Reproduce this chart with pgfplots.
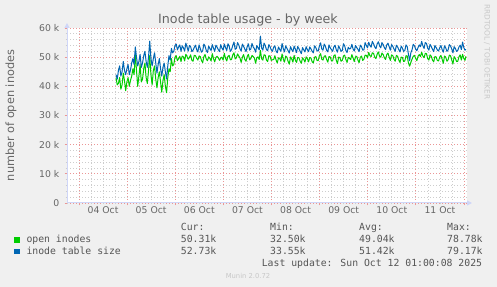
\documentclass[border=0pt]{standalone}
\usepackage{pgfplots}
\pgfplotsset{compat=1.18}
\usepackage{pgfplotstable}
\usepackage{fontspec}
\setmainfont{DejaVu Sans}
\newfontfamily\monofont{DejaVu Sans Mono}
\usetikzlibrary{arrows.meta}
\definecolor{bgc}{HTML}{F0F0F0}
\definecolor{axiscol}{HTML}{CFD6F8}
\definecolor{fontc}{HTML}{666666}
\definecolor{legc}{HTML}{555555}
\definecolor{mgrid}{RGB}{235,150,150}
\definecolor{ngrid}{RGB}{205,205,205}
\definecolor{cgreen}{HTML}{00CC00}
\definecolor{cblue}{HTML}{0066B3}
\definecolor{wm}{HTML}{C8C8C8}

\pgfplotstableread{
x blue green
0.77 44.0 43.0
0.795 42.5 40.5
0.82 45.5 41.0
0.845 47.0 43.0
0.87 43.5 39.0
0.895 45.0 40.5
0.92 48.5 44.5
0.945 45.5 42.0
0.97 44.0 38.5
0.995 46.0 41.5
1.02 47.5 43.0
1.045 44.0 40.0
1.07 45.5 42.0
1.095 48.0 43.5
1.12 49.5 46.0
1.145 47.5 44.0
1.17 53.5 51.0
1.195 50.0 45.5
1.22 47.0 40.0
1.245 48.5 43.5
1.27 51.0 47.5
1.295 46.5 41.5
1.32 48.0 42.5
1.345 50.5 46.0
1.37 52.0 48.0
1.395 48.5 43.0
1.42 46.5 41.0
1.445 50.0 45.5
1.47 55.5 50.5
1.495 49.5 44.0
1.52 47.0 40.5
1.545 49.5 45.5
1.57 51.5 47.0
1.595 48.0 42.5
1.62 44.5 39.5
1.645 47.5 43.0
1.67 49.5 45.0
1.695 46.0 41.5
1.72 43.5 38.0
1.745 46.5 42.0
1.77 48.0 44.0
1.795 45.0 40.0
1.82 42.5 37.8
1.845 47.0 43.0
1.87 50.5 46.0
1.895 49.0 45.0
1.92 53.0 49.5
1.945 51.5 47.0
1.97 52.0 47.5
1.995 54.0 50.0
2.02 54.5 50.5
2.045 52.5 48.8
2.07 53.5 49.5
2.095 54.2 50.3
2.12 52.0 48.5
2.145 53.9 50.4
2.17 53.2 50.1
2.195 52.1 48.7
2.22 54.8 51.0
2.245 53.5 50.2
2.27 52.1 49.3
2.295 54.0 49.9
2.32 53.6 50.8
2.345 51.9 48.9
2.37 52.4 48.6
2.395 53.3 50.6
2.42 54.1 50.5
2.445 52.6 49.6
2.47 51.8 49.0
2.495 54.2 50.4
2.52 53.0 50.2
2.545 51.7 48.9
2.57 52.2 48.1
2.595 54.5 50.2
2.62 53.7 50.9
2.645 52.3 49.3
2.67 51.6 48.8
2.695 53.8 50.1
2.72 52.9 49.6
2.745 52.3 48.7
2.77 54.3 51.2
2.795 53.1 49.5
2.82 52.0 48.4
2.845 54.1 49.9
2.87 53.4 50.3
2.895 52.6 49.8
2.92 51.9 48.9
2.945 54.3 49.7
2.97 53.1 50.0
2.995 52.4 49.0
3.02 54.5 51.3
3.045 53.3 49.6
3.07 52.3 48.7
3.095 54.6 50.3
3.12 53.8 50.6
3.145 52.0 49.1
3.17 52.6 49.2
3.195 54.0 50.8
3.22 55.2 51.5
3.245 52.7 49.4
3.27 53.0 49.8
3.295 55.0 51.1
3.32 54.2 50.4
3.345 52.9 49.7
3.37 52.1 48.2
3.395 54.5 50.0
3.42 53.7 50.9
3.445 52.8 49.2
3.47 51.9 48.6
3.495 53.6 50.2
3.52 54.6 51.0
3.545 52.4 49.1
3.57 52.8 49.5
3.595 54.7 50.6
3.62 53.5 50.2
3.645 52.9 49.7
3.67 51.7 47.9
3.695 54.0 49.8
3.72 53.2 50.1
3.745 52.5 49.2
3.77 57.2 52.3
3.795 53.1 49.4
3.82 52.4 49.0
3.845 54.8 50.8
3.87 54.0 50.7
3.895 52.6 49.0
3.92 52.2 48.5
3.945 54.3 50.5
3.97 53.6 50.4
3.995 52.5 48.9
4.02 52.0 49.1
4.045 53.4 49.2
4.07 53.9 50.5
4.095 52.1 49.0
4.12 51.5 48.0
4.145 53.5 49.8
4.17 52.7 49.6
4.195 52.0 48.6
4.22 54.7 51.1
4.245 52.9 49.3
4.27 51.8 48.3
4.295 53.9 50.4
4.32 53.0 50.0
4.345 52.2 48.5
4.37 51.4 47.6
4.395 53.6 50.1
4.42 52.6 49.4
4.445 51.9 48.3
4.47 53.8 50.6
4.495 52.8 49.0
4.52 51.6 48.2
4.545 53.7 49.9
4.57 52.9 49.8
4.595 52.0 48.6
4.62 51.2 47.9
4.645 53.3 49.8
4.67 52.5 49.2
4.695 51.8 48.3
4.72 53.6 50.1
4.745 52.6 49.5
4.77 51.9 48.4
4.795 53.5 49.9
4.82 52.8 49.7
4.845 52.0 48.4
4.87 51.5 48.0
4.895 53.9 50.0
4.92 53.3 50.2
4.945 52.2 48.9
4.97 52.1 48.8
4.995 53.8 50.5
5.02 54.9 51.2
5.045 52.8 49.3
5.07 52.4 49.0
5.095 54.5 50.3
5.12 53.7 50.5
5.145 52.4 49.2
5.17 51.8 48.3
5.195 54.2 50.2
5.22 53.2 50.1
5.245 52.6 48.8
5.27 52.0 48.7
5.295 53.5 50.5
5.32 54.1 50.8
5.345 52.6 49.0
5.37 51.7 47.8
5.395 53.9 50.0
5.42 53.0 49.9
5.445 52.0 48.6
5.47 52.3 48.9
5.495 54.6 50.4
5.52 53.9 50.7
5.545 52.3 49.2
5.57 51.6 48.2
5.595 53.4 49.9
5.62 52.8 49.6
5.645 53.0 49.2
5.67 54.4 50.9
5.695 52.8 49.7
5.72 52.1 48.5
5.745 54.0 50.1
5.77 53.3 50.3
5.795 52.7 49.0
5.82 51.9 48.1
5.845 54.1 50.0
5.87 53.6 50.4
5.895 52.4 48.9
5.92 52.5 49.3
5.945 55.0 50.7
5.97 54.0 50.6
5.995 53.2 49.8
6.02 55.1 51.6
6.045 54.0 50.5
6.07 53.4 50.2
6.095 55.4 51.5
6.12 54.6 51.3
6.145 53.5 50.0
6.17 52.9 49.5
6.195 54.5 51.0
6.22 55.3 51.8
6.245 53.9 50.3
6.27 53.2 50.0
6.295 55.0 51.4
6.32 54.3 50.9
6.345 53.3 49.8
6.37 52.6 49.2
6.395 54.2 50.9
6.42 54.8 51.4
6.445 53.6 50.0
6.47 52.4 48.9
6.495 54.3 50.8
6.52 53.7 50.5
6.545 52.8 49.3
6.57 52.0 48.6
6.595 54.1 50.6
6.62 53.5 50.3
6.645 52.6 49.0
6.67 51.8 48.2
6.695 53.8 50.0
6.72 53.1 49.9
6.745 52.0 48.5
6.77 52.3 48.7
6.795 54.2 50.5
6.82 53.6 50.4
6.845 51.0 48.0
6.87 48.8 46.9
6.895 51.5 48.2
6.92 52.5 49.3
6.945 54.4 50.3
6.97 53.9 50.6
6.995 52.8 49.6
7.02 52.2 48.8
7.045 53.3 50.3
7.07 54.2 50.9
7.095 53.6 50.2
7.12 55.4 51.7
7.145 53.9 50.4
7.17 53.0 49.8
7.195 55.0 51.3
7.22 54.7 51.2
7.245 53.1 49.5
7.27 52.4 49.0
7.295 54.4 50.8
7.32 53.6 50.3
7.345 52.7 49.0
7.37 51.9 48.4
7.395 54.0 50.2
7.42 53.3 50.1
7.445 52.5 48.9
7.47 52.1 48.7
7.495 53.2 50.0
7.52 54.0 50.6
7.545 52.6 49.3
7.57 51.7 47.9
7.595 53.9 50.4
7.62 53.2 50.0
7.645 52.0 48.6
7.67 52.5 49.1
7.695 54.3 50.7
7.72 53.8 50.5
7.745 52.8 49.0
7.77 51.5 47.7
7.795 53.6 50.2
7.82 53.0 49.6
7.845 52.0 48.5
7.87 52.3 48.6
7.895 53.5 50.1
7.92 54.1 50.8
7.945 52.6 49.0
7.97 55.2 51.0
7.995 53.3 49.6
8.02 52.4 48.9
8.04 52.7 50.3
}\datatab

\begin{document}
\begin{tikzpicture}
\fill[bgc] (0,0) rectangle (497bp,287bp);
\begin{axis}[
  at={(67bp,84bp)}, anchor=south west,
  scale only axis, width=400bp, height=175bp,
  xmin=-0.249, xmax=8.062, ymin=0, ymax=60,
  axis background/.style={fill=white},
  axis x line=bottom, axis y line=left,
  axis line style={draw=axiscol, line width=1bp, shorten >=-5bp, -{Triangle[length=5bp,width=5bp]}},
  tick align=outside,
  major tick length=2.5bp, minor tick length=1.5bp,
  every major tick/.style={draw=mgrid, line width=0.8bp},
  every minor tick/.style={draw=ngrid, line width=0.8bp},
  grid=both,
  major grid style={draw=mgrid, line width=0.8bp, dash pattern=on 1bp off 2bp},
  minor grid style={draw=ngrid, line width=0.8bp, dash pattern=on 1bp off 2bp},
  xtick={0,1,2,3,4,5,6,7,8},
  xticklabels={,,,,,,,,},
  minor xtick={-0.25,0,...,8},
  extra x ticks={0.5,1.5,2.5,3.5,4.5,5.5,6.5,7.5},
  extra x tick labels={04 Oct,05 Oct,06 Oct,07 Oct,08 Oct,09 Oct,10 Oct,11 Oct},
  extra x tick style={grid=none, major tick length=0pt},
  ytick={0,10,20,30,40,50,60},
  yticklabels={0,10 k,20 k,30 k,40 k,50 k,60 k},
  minor ytick={0,2,...,60},
  scaled y ticks=false,
  tick label style={font=\fontsize{9.3bp}{11bp}\selectfont, text=fontc},
  yticklabel style={inner sep=0pt, xshift=-5bp},
  xticklabel style={inner sep=0pt, yshift=-3.5bp},
  clip=true,
]
\addplot[cgreen, line width=1bp, line join=round] table[x=x, y=green] {\datatab};
\addplot[cblue, line width=1bp, line join=round] table[x=x, y=blue] {\datatab};
\end{axis}
% title
\node[anchor=base, text=fontc, font=\fontsize{12.7bp}{14bp}\selectfont, inner sep=0pt] at (248bp,263bp) {Inode table usage - by week};
% y label
\node[rotate=90, text=fontc, font=\fontsize{11.3bp}{13bp}\selectfont, inner sep=0pt] at (11bp,171.5bp) {number of open inodes};
% watermark
\node[rotate=-90, text=wm, font=\fontsize{7.4bp}{9bp}\selectfont, inner sep=0pt] at (487bp,235bp) {RRDTOOL / TOBI OETIKER};
% legend
\fill[cgreen] (14bp,44.3bp) rectangle (19.5bp,49.7bp);
\fill[cblue] (14bp,33bp) rectangle (19.5bp,38.4bp);
\begin{scope}[every node/.style={inner sep=0pt, anchor=base west, text=legc, font=\monofont\fontsize{9.8bp}{11bp}\selectfont}]
\node at (26.3bp,44.3bp) {open inodes};
\node at (26.3bp,32.7bp) {inode table size};
\node at (180.7bp,56bp) {Cur:};
\node at (270bp,56bp) {Min:};
\node at (359bp,56bp) {Avg:};
\node at (447bp,56bp) {Max:};
\node at (180.7bp,44.3bp) {50.31k};
\node at (270bp,44.3bp) {32.50k};
\node at (359bp,44.3bp) {49.04k};
\node at (447bp,44.3bp) {78.78k};
\node at (180.7bp,32.7bp) {52.73k};
\node at (270bp,32.7bp) {33.55k};
\node at (359bp,32.7bp) {51.42k};
\node at (447bp,32.7bp) {79.17k};
\node[anchor=base east] at (482.3bp,21bp) {Last update: Sun Oct 12 01:00:08 2025};
\end{scope}
\node[anchor=base, inner sep=0pt, text=wm, font=\fontsize{6.8bp}{8bp}\selectfont] at (248bp,8.7bp) {Munin 2.0.72};
\end{tikzpicture}
\end{document}
